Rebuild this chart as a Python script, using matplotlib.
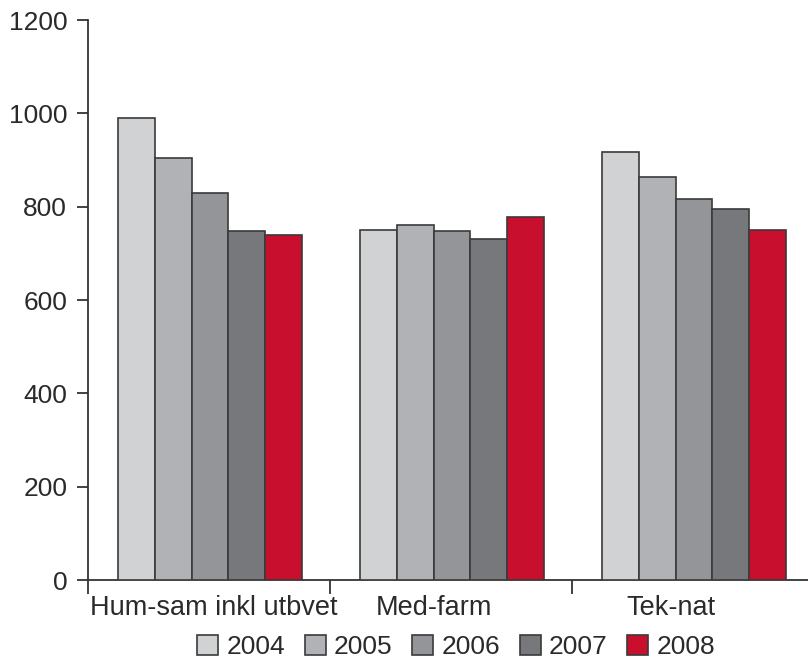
import matplotlib
matplotlib.use("Agg")
import matplotlib.pyplot as plt
import numpy as np

categories = ["Hum-sam inkl utbvet", "Med-farm", "Tek-nat"]
years = ["2004", "2005", "2006", "2007", "2008"]
values = {
    "2004": [990, 751, 917],
    "2005": [905, 760, 863],
    "2006": [829, 748, 816],
    "2007": [747, 730, 794],
    "2008": [739, 777, 751],
}
colors = ["#d1d2d4", "#b1b2b6", "#939598", "#77787b", "#c8102e"]
yticks = [0, 200, 400, 600, 800, 1000, 1200]

plt.rcParams['font.family'] = ['Liberation Sans', 'DejaVu Sans']
W, H = 808, 659
fig = plt.figure(figsize=(W / 100, H / 100), dpi=100)
left, right = 88 / W, 1.0
bottom, top = (H - 580) / H, (H - 20) / H
ax = fig.add_axes([left, bottom, right - left, top - bottom])

x = np.arange(len(categories))
bw = 0.152
for i, (yr, c) in enumerate(zip(years, colors)):
    ax.bar(x + (i - 2) * bw + 0.004, values[yr], width=bw, color=c,
           edgecolor="#3a3a3a", linewidth=1.2, label=yr, zorder=3)

ax.set_ylim(0, 1200)
ax.set_xlim(-0.5, -0.5 + 720 / 242)
ax.set_yticks(yticks)
ax.set_yticklabels([str(t) for t in yticks], fontsize=19, color="#2a2a2a")
ax.set_xticks([-0.5, 0.5, 1.5])
ax.set_xticklabels([])
ax.tick_params(axis='x', length=10, width=1.3, color="#333333", direction='out')
ax.tick_params(axis='y', length=8, width=1.3, color="#333333", direction='out', pad=7)

label_x = [0.02, 1 - 0.07, 2 - 0.09]
for lx, cat in zip(label_x, categories):
    ax.text(lx, -33, cat, transform=ax.transData,
            ha='center', va='top', fontsize=19.5, color="#2a2a2a")

for s in ["top", "right"]:
    ax.spines[s].set_visible(False)
for s in ["left", "bottom"]:
    ax.spines[s].set_color("#333333")
    ax.spines[s].set_linewidth(1.3)

leg = fig.legend(loc='center', bbox_to_anchor=(456 / W, (H - 647) / H), ncol=5,
                 frameon=False, fontsize=19, handlelength=0.8, handleheight=0.8,
                 handletextpad=0.3, columnspacing=0.75, labelcolor="#2a2a2a")

fig.savefig("out.png", dpi=100)
